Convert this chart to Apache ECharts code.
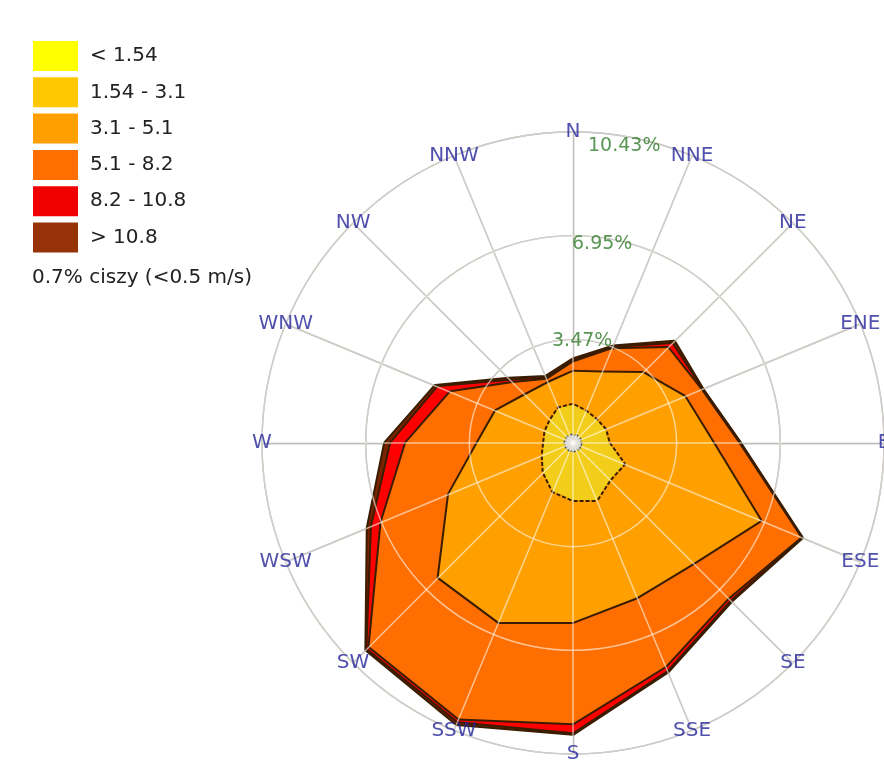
<!DOCTYPE html>
<html><head><meta charset="utf-8">
<script src="https://cdn.jsdelivr.net/npm/echarts@6/dist/echarts.min.js"></script>
<style>html,body{margin:0;padding:0;background:#fff}#c{width:884px;height:764px}</style>
</head><body><div id="c"></div>
<script>
// Compass directions, clockwise from north
const directions = ['N','NNE','NE','ENE','E','ESE','SE','SSE','S','SSW','SW','WSW','W','WNW','NW','NNW'];
// Ring values (%) shown on the north axis
const ringValues = [3.47, 6.95, 10.43];
// Wind speed classes (m/s)
const classNames = ['< 1.54', '1.54 - 3.1', '3.1 - 5.1', '5.1 - 8.2', '8.2 - 10.8', '> 10.8'];
const calmPercent = 0.7;
// Calm circle radius (%) in each direction
const calmCircle = [0.27,0.27,0.27,0.27,0.27,0.27,0.27,0.27,0.27,0.27,0.27,0.27,0.27,0.27,0.27,0.27];
// Cumulative frequency (%) up to each class, per direction (clockwise from N)
const cumTo1_54  = [0.22,0.20,0.22,0.21,0.22,0.24,0.22,0.21,0.22,0.20,0.22,0.20,0.21,0.20,0.22,0.20];
const cumTo3_1   = [1.28,1.14,1.10,1.17,1.20,1.85,1.74,2.07,1.91,1.75,1.39,1.10,0.97,1.00,1.07,1.26];
const cumTo5_1   = [2.39,2.56,3.32,4.05,4.70,6.80,5.70,5.60,6.00,6.50,6.37,4.50,3.20,2.80,2.27,2.18];
const cumTo8_2   = [2.70,3.40,4.50,4.65,5.55,8.25,7.35,8.10,9.40,10.00,9.65,6.95,5.60,4.45,2.85,2.30];
const cumTo10_8  = [2.74,3.45,4.70,4.68,5.58,8.28,7.45,8.25,9.70,10.10,9.75,7.30,6.10,4.90,2.95,2.35];
const cumTotal   = [2.80,3.50,4.80,4.70,5.60,8.30,7.50,8.30,9.75,10.20,9.80,7.45,6.30,5.00,3.05,2.40];

const layers = [cumTo1_54, cumTo3_1, cumTo5_1, cumTo8_2, cumTo10_8, cumTotal];
const legendColors = ['#FFFF00', '#FFC800', '#FFA000', '#FF6E00', '#F00000', '#963208'];
const areaColors   = ['#FFFF00', '#F2CE1A', '#FFA000', '#FF6E00', '#FF0000', '#7A2300'];
const percentLabelOffsets = [[-21, 2], [-1, 8], [15, 14]];

const FONT = 'DejaVu Sans';
const CENTER = [573, 443];
const RADIUS = 311;
const ringMax = ringValues[ringValues.length - 1];

// radar indicators run counter-clockwise, so reorder
const n = directions.length;
const ccwIdx = directions.map((d, i) => (n - i) % n);
const reorder = arr => ccwIdx.map(i => arr[i]);

function radarCfg(lineColor, width, z) {
  return {
    center: CENTER, radius: RADIUS, startAngle: 90, shape: 'circle',
    splitNumber: ringValues.length, z: z,
    indicator: reorder(directions).map(name => ({ name: name, min: 0, max: ringMax })),
    axisName: { show: false },
    splitArea: { show: false },
    axisTick: { show: false },
    axisLabel: { show: false },
    splitLine: { lineStyle: { color: lineColor, width: width } },
    axisLine: { lineStyle: { color: lineColor, width: width } }
  };
}

const series = [];
for (let k = layers.length - 1; k >= 0; k--) {
  const ls = { color: '#3a1c00', width: 4, type: k <= 1 ? [4, 2] : 'solid' };
  series.push({
    type: 'radar', radarIndex: 0, name: classNames[k], symbol: 'none', z: 2,
    data: [{ name: classNames[k], value: reorder(layers[k]), lineStyle: ls }],
    itemStyle: { color: legendColors[k] },
    areaStyle: { color: areaColors[k], opacity: 1 },
    lineStyle: ls
  });
}
series.push({
  type: 'radar', radarIndex: 0, name: 'calm', symbol: 'none', z: 2,
  data: [{ name: 'calm', value: reorder(calmCircle) }],
  itemStyle: { color: '#C8C8C8' },
  areaStyle: { color: '#C8C8C8', opacity: 1 },
  lineStyle: { color: '#555', width: 3, type: [3, 2] }
});
series.push({
  type: 'scatter', coordinateSystem: 'polar', symbolSize: 1, silent: true, z: 5,
  itemStyle: { color: 'rgba(0,0,0,0)' },
  data: directions.map(d => ({ name: d, value: [ringMax, d] })),
  label: { show: true, position: 'inside', formatter: '{b}', color: '#24249a', fontSize: 20, fontFamily: FONT }
});
series.push({
  type: 'scatter', coordinateSystem: 'polar', symbolSize: 1, silent: true, z: 5,
  itemStyle: { color: 'rgba(0,0,0,0)' },
  data: ringValues.map((v, i) => ({
    name: v + '%', value: [v, directions[0]],
    label: { offset: percentLabelOffsets[i] }
  })),
  label: { show: true, position: 'inside', align: 'left', formatter: '{b}', color: '#2f7a28', fontSize: 19, fontFamily: FONT }
});

const chart = echarts.init(document.getElementById('c'));
chart.setOption({
  backgroundColor: '#ffffff',
  animation: false,
  title: {
    text: calmPercent + '% ciszy (<0.5 m/s)', left: 32, top: 268, padding: 0,
    textStyle: { fontFamily: FONT, fontSize: 20, fontWeight: 'normal', color: '#222' }
  },
  legend: {
    data: classNames, orient: 'vertical', left: 33, top: 40, icon: 'rect',
    itemWidth: 45, itemHeight: 30, itemGap: 4.3, padding: 0,
    itemStyle: { borderWidth: 0 },
    selectedMode: false,
    textStyle: { fontFamily: FONT, fontSize: 20, lineHeight: 22, padding: [10, 0, 0, 7], color: '#222' }
  },
  radar: [radarCfg('#8c8c8c', 1.4, 0), radarCfg('rgba(255,250,240,0.6)', 1.5, 3)],
  polar: { center: CENTER, radius: RADIUS },
  angleAxis: { type: 'category', data: directions, startAngle: 90, clockwise: true, boundaryGap: false, show: false },
  radiusAxis: { min: 0, max: ringMax, show: false },
  series: series
});
</script>
</body></html>
